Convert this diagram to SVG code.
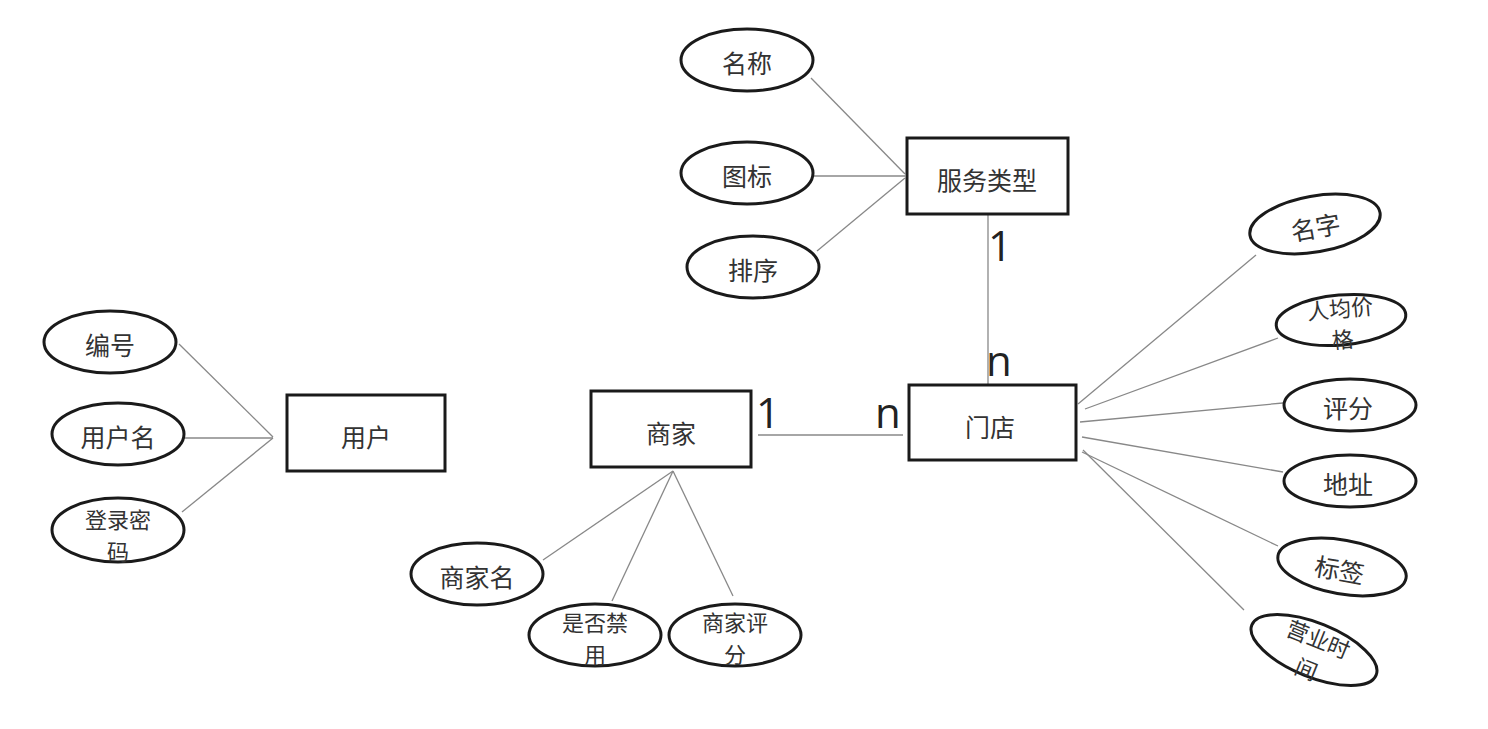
<svg xmlns="http://www.w3.org/2000/svg" width="1488" height="729" viewBox="0 0 1488 729">
<style>
.ent{fill:#fff;stroke:#1a1a1a;stroke-width:3}
.att{fill:#fff;stroke:#1a1a1a;stroke-width:3}
.t{font-family:"Noto Sans CJK SC","Noto Sans",sans-serif;font-size:25px;fill:#333;text-anchor:middle;dominant-baseline:central}
.t2{font-size:22px}
.c line{stroke:#888;stroke-width:1.3}
.card{font-family:"Open Sans","DejaVu Sans",sans-serif;font-size:42px;fill:#222}
</style>
<rect width="1488" height="729" fill="#fff"/>
<g class="c" id="connectors">
<line x1="811" y1="78" x2="905" y2="174"/>
<line x1="814" y1="176" x2="905" y2="176"/>
<line x1="817" y1="251" x2="905" y2="178"/>
<line x1="179" y1="344" x2="273" y2="437"/>
<line x1="177" y1="438" x2="273" y2="438"/>
<line x1="182" y1="512" x2="273" y2="438"/>
<line x1="543" y1="560" x2="673" y2="471"/>
<line x1="612" y1="601" x2="673" y2="471"/>
<line x1="733" y1="596" x2="673" y2="471"/>
<line x1="988" y1="214" x2="988" y2="384"/>
<line x1="758" y1="435" x2="903" y2="435"/>
<line x1="1078" y1="404" x2="1256" y2="255"/>
<line x1="1085" y1="409" x2="1278" y2="338"/>
<line x1="1080" y1="422" x2="1283" y2="403"/>
<line x1="1082" y1="437" x2="1283" y2="472"/>
<line x1="1082" y1="452" x2="1278" y2="546"/>
<line x1="1083" y1="450" x2="1244" y2="610"/>
<text class="card" x="988" y="261">1</text>
<text class="card" x="986" y="376">n</text>
<text class="card" x="756" y="428">1</text>
<text class="card" x="875" y="428">n</text>
</g>
<g id="fuwuleixing"><rect class="ent" x="907" y="138" width="161" height="76"/><text class="t" x="987" y="179">服务类型</text></g>
<g id="yonghu"><rect class="ent" x="287" y="395" width="158" height="76"/><text class="t" x="366" y="436">用户</text></g>
<g id="shangjia"><rect class="ent" x="591" y="391" width="160" height="76"/><text class="t" x="671" y="432">商家</text></g>
<g id="mendian"><rect class="ent" x="909" y="385" width="167" height="75"/><text class="t" x="990" y="426">门店</text></g>
<g id="mingcheng"><ellipse class="att" cx="747" cy="60" rx="66" ry="31"/><text class="t" x="747" y="62">名称</text></g>
<g id="tubiao"><ellipse class="att" cx="747" cy="173" rx="66" ry="31"/><text class="t" x="747" y="175">图标</text></g>
<g id="paixu"><ellipse class="att" cx="753" cy="267" rx="66" ry="31"/><text class="t" x="753" y="269">排序</text></g>
<g id="bianhao"><ellipse class="att" cx="110" cy="342" rx="66" ry="31"/><text class="t" x="110" y="344">编号</text></g>
<g id="yonghuming"><ellipse class="att" cx="118" cy="434" rx="66" ry="31"/><text class="t" x="118" y="436">用户名</text></g>
<g id="denglumima"><ellipse class="att" cx="118" cy="530" rx="66" ry="32"/><text class="t t2" x="118" y="518">登录密<tspan x="118" dy="32">码</tspan></text></g>
<g id="shangjiaming"><ellipse class="att" cx="477" cy="574" rx="66" ry="31"/><text class="t" x="477" y="576">商家名</text></g>
<g id="shifoujinyong"><ellipse class="att" cx="595" cy="635" rx="66" ry="31"/><text class="t t2" x="595" y="621">是否禁<tspan x="595" dy="32">用</tspan></text></g>
<g id="shangjiapingfen"><ellipse class="att" cx="735" cy="635" rx="66" ry="31"/><text class="t t2" x="735" y="621">商家评<tspan x="735" dy="32">分</tspan></text></g>
<g id="mingzi" transform="translate(1315,224) rotate(-10)"><ellipse class="att" cx="0" cy="0" rx="66" ry="28"/><text class="t" x="0" y="2">名字</text></g>
<g id="renjunjiage" transform="translate(1341,320) rotate(-5)"><ellipse class="att" cx="0" cy="0" rx="65" ry="25"/><text class="t t2" x="0" y="-13">人均价<tspan x="0" dy="31">格</tspan></text></g>
<g id="pingfen"><ellipse class="att" cx="1350" cy="405" rx="66" ry="26"/><text class="t" x="1348" y="407">评分</text></g>
<g id="dizhi"><ellipse class="att" cx="1350" cy="481" rx="66" ry="26"/><text class="t" x="1348" y="483">地址</text></g>
<g id="biaoqian" transform="translate(1342,567) rotate(10)"><ellipse class="att" cx="0" cy="0" rx="65" ry="27"/><text class="t" x="-2" y="2">标签</text></g>
<g id="yingyeshijian" transform="translate(1314,650) rotate(22)"><ellipse class="att" cx="0" cy="0" rx="67" ry="27"/><text class="t t2" x="0" y="-13">营业时<tspan x="0" dy="32">间</tspan></text></g>
</svg>
